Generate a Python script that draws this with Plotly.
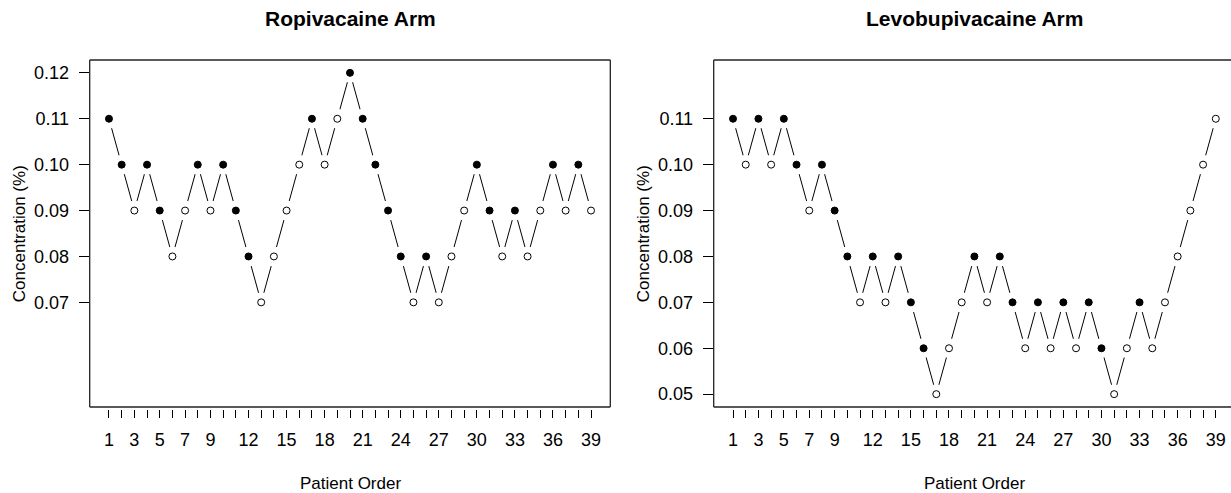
import plotly.graph_objects as go

# ---------------- data ----------------
patients = list(range(1, 40))

ropi_conc = [0.11, 0.10, 0.09, 0.10, 0.09, 0.08, 0.09, 0.10, 0.09, 0.10,
             0.09, 0.08, 0.07, 0.08, 0.09, 0.10, 0.11, 0.10, 0.11, 0.12,
             0.11, 0.10, 0.09, 0.08, 0.07, 0.08, 0.07, 0.08, 0.09, 0.10,
             0.09, 0.08, 0.09, 0.08, 0.09, 0.10, 0.09, 0.10, 0.09]
ropi_resp = [1, 1, 0, 1, 1, 0, 0, 1, 0, 1,
             1, 1, 0, 0, 0, 0, 1, 0, 0, 1,
             1, 1, 1, 1, 0, 1, 0, 0, 0, 1,
             1, 0, 1, 0, 0, 1, 0, 1, 0]

levo_conc = [0.11, 0.10, 0.11, 0.10, 0.11, 0.10, 0.09, 0.10, 0.09, 0.08,
             0.07, 0.08, 0.07, 0.08, 0.07, 0.06, 0.05, 0.06, 0.07, 0.08,
             0.07, 0.08, 0.07, 0.06, 0.07, 0.06, 0.07, 0.06, 0.07, 0.06,
             0.05, 0.06, 0.07, 0.06, 0.07, 0.08, 0.09, 0.10, 0.11]
levo_resp = [1, 0, 1, 0, 1, 1, 0, 1, 1, 1,
             0, 1, 0, 1, 1, 1, 0, 0, 0, 1,
             0, 1, 1, 0, 1, 0, 1, 0, 1, 1,
             0, 0, 1, 0, 0, 0, 0, 0, 0]

x_tick_vals = list(range(1, 40))
x_tick_shown = [1, 3, 5, 7, 9, 12, 15, 18, 21, 24, 27, 30, 33, 36, 39]
ropi_yticks = [0.07, 0.08, 0.09, 0.10, 0.11, 0.12]
levo_yticks = [0.05, 0.06, 0.07, 0.08, 0.09, 0.10, 0.11]

titles = ["Ropivacaine Arm", "Levobupivacaine Arm"]
xlabel = "Patient Order"
ylabel = "Concentration (%)"

# ---------------- geometry (pixels) ----------------
W, H = 1231, 493
FONT = "Liberation Sans, Arial, sans-serif"
box_top, box_bot = 60, 407
axis_bot = 409
xlim = (-0.52, 40.52)
ylim_lo, ylim_hi = 0.0472, 0.1228
y_ppu = (box_bot - box_top) / (ylim_hi - ylim_lo)
y_range = [ylim_lo - (axis_bot - box_bot) / y_ppu, ylim_hi]

panels = [
    dict(x0=89.7, x1=610.3),
    dict(x0=713.7, x1=1235.1),
]

def px(x):
    return x / W

def py(y):
    return 1 - y / H

fig = go.Figure()
shapes = []
annotations = []

datasets = [(ropi_conc, ropi_resp, ropi_yticks), (levo_conc, levo_resp, levo_yticks)]

for i, (conc, resp, yt) in enumerate(datasets):
    p = panels[i]
    xa = "x" if i == 0 else "x2"
    ya = "y" if i == 0 else "y2"
    ppu = (p["x1"] - p["x0"]) / (xlim[1] - xlim[0])
    dom_x1 = min(p["x1"], W)
    xr = [xlim[0], xlim[0] + (dom_x1 - p["x0"]) / ppu]

    # connecting line
    fig.add_trace(go.Scatter(x=patients, y=conc, mode="lines",
                             line=dict(color="black", width=1),
                             xaxis=xa, yaxis=ya, showlegend=False, hoverinfo="skip"))
    # white mask to create gaps around points (R type="b")
    fig.add_trace(go.Scatter(x=patients, y=conc, mode="markers",
                             marker=dict(size=20, color="white", line=dict(width=0)),
                             xaxis=xa, yaxis=ya, showlegend=False, hoverinfo="skip"))
    # points
    fills = ["black" if r == 1 else "white" for r in resp]
    fig.add_trace(go.Scatter(x=patients, y=conc, mode="markers",
                             marker=dict(size=7, color=fills, line=dict(color="black", width=1)),
                             xaxis=xa, yaxis=ya, showlegend=False))

    suffix = "" if i == 0 else "2"
    fig.update_layout(**{
        "xaxis" + suffix: dict(
            domain=[px(p["x0"]), px(dom_x1)], range=xr, anchor=ya,
            showline=False, showgrid=False, zeroline=False,
            ticks="outside", ticklen=8, tickwidth=1, tickcolor="black",
            tickvals=x_tick_vals,
            ticktext=[str(v) if v in x_tick_shown else "" for v in x_tick_vals],
            tickfont=dict(family=FONT, size=18, color="black"),
            ticklabelstandoff=6,
        ),
        "yaxis" + suffix: dict(
            domain=[py(axis_bot), py(box_top)], range=y_range, anchor=xa,
            showline=False, showgrid=False, zeroline=False,
            ticks="outside", ticklen=10, tickwidth=1, tickcolor="black",
            tickvals=yt, ticktext=["%.2f" % v for v in yt],
            tickfont=dict(family=FONT, size=18, color="black"),
            ticklabelstandoff=6,
        ),
    })

    # box
    line = dict(color="#222222", width=1.3)
    shapes.append(dict(type="line", xref="paper", yref="paper",
                       x0=px(p["x0"]), x1=px(p["x1"]), y0=py(box_top), y1=py(box_top), line=line))
    shapes.append(dict(type="line", xref="paper", yref="paper",
                       x0=px(p["x0"]), x1=px(p["x1"]), y0=py(box_bot), y1=py(box_bot), line=line))
    shapes.append(dict(type="line", xref="paper", yref="paper",
                       x0=px(p["x0"]), x1=px(p["x0"]), y0=py(box_top), y1=py(box_bot), line=line))
    shapes.append(dict(type="line", xref="paper", yref="paper",
                       x0=px(p["x1"]), x1=px(p["x1"]), y0=py(box_top), y1=py(box_bot), line=line))

    cx = (p["x0"] + p["x1"]) / 2
    annotations.append(dict(text="<b>%s</b>" % titles[i], xref="paper", yref="paper",
                            x=px(cx), y=py(19), xanchor="center", yanchor="middle",
                            showarrow=False, font=dict(family=FONT, size=21, color="black")))
    annotations.append(dict(text=xlabel, xref="paper", yref="paper",
                            x=px(cx), y=py(483), xanchor="center", yanchor="middle",
                            showarrow=False, font=dict(family=FONT, size=17, color="black")))
    annotations.append(dict(text=ylabel, xref="paper", yref="paper",
                            x=px(p["x0"] - 70), y=py((box_top + box_bot) / 2),
                            xanchor="center", yanchor="middle", textangle=-90,
                            showarrow=False, font=dict(family=FONT, size=17, color="black")))

fig.update_layout(width=W, height=H, margin=dict(l=0, r=0, t=0, b=0),
                  paper_bgcolor="white", plot_bgcolor="white",
                  shapes=shapes, annotations=annotations)

fig.write_html("out.html")
